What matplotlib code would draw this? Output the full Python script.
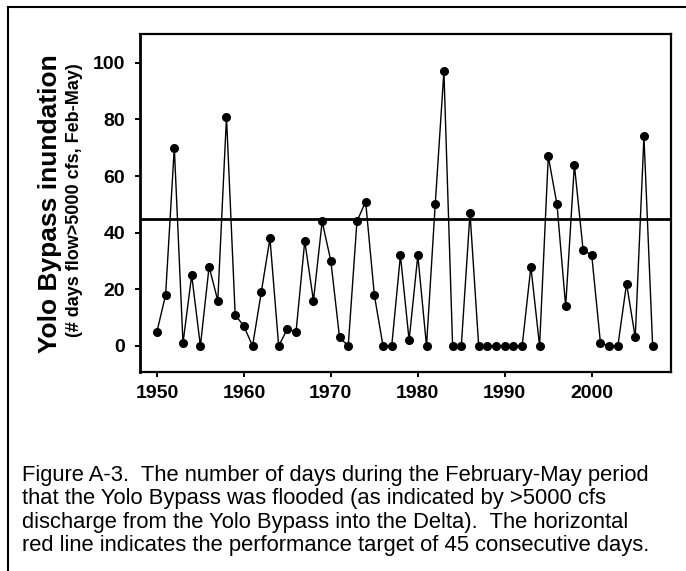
import numpy as np
import matplotlib
matplotlib.use("Agg")
import matplotlib.pyplot as plt
from matplotlib.lines import Line2D

plt.rcParams["font.family"] = ["Liberation Sans", "DejaVu Sans"]

# flooded days (Feb-May) per water year
years = list(range(1950, 2008))
days = [5, 18, 70, 1, 25, 0, 28, 16, 81, 11,
        7, 0, 19, 38, 0, 6, 5, 37, 16, 44,
        30, 3, 0, 44, 51, 18, 0, 0, 32, 2,
        32, 0, 50, 97, 0, 0, 47, 0, 0, 0,
        0, 0, 0, 28, 0, 67, 50, 14, 64, 34,
        32, 1, 0, 0, 22, 3, 74, 0]
target = 45
xticks = [1950, 1960, 1970, 1980, 1990, 2000]
yticks = [0, 20, 40, 60, 80, 100]

caption = ("Figure A-3.  The number of days during the February-May period\n"
           "that the Yolo Bypass was flooded (as indicated by >5000 cfs\n"
           "discharge from the Yolo Bypass into the Delta).  The horizontal\n"
           "red line indicates the performance target of 45 consecutive days.")

fig = plt.figure(figsize=(6.86, 5.71), dpi=100)
ax = fig.add_axes([0.204, 0.3485, 0.774, 0.592])

ax.axhline(target, color="black", lw=2.0, zorder=2)
ax.plot(years, days, color="black", lw=1.0, marker="o", ms=5.5,
        mfc="black", mec="black", zorder=3)

ax.set_xlim(1948.05, 2009.1)
ax.set_ylim(-9.2, 110.2)
ax.set_xticks(xticks)
ax.set_yticks(yticks)
ax.tick_params(direction="out", length=3.5, width=1.4, labelsize=14)
ax.tick_params(axis="y", pad=7)
ax.tick_params(axis="x", pad=6)
for lab in ax.get_xticklabels() + ax.get_yticklabels():
    lab.set_fontweight("bold")
for s in ax.spines.values():
    s.set_linewidth(1.6)
ax.spines["left"].set_linewidth(2.0)

fig.text(0.073, 0.643, "Yolo Bypass inundation", rotation=90, ha="center",
         va="center", fontsize=19, fontweight="bold")
fig.text(0.109, 0.65, "(# days flow>5000 cfs, Feb-May)", rotation=90,
         ha="center", va="center", fontsize=13, fontweight="bold")

fig.text(0.032, 0.026, caption, ha="left", va="bottom", fontsize=15.8,
         linespacing=1.15)

# outer frame, cut at the right and bottom
fig.add_artist(Line2D([0.012, 0.012], [0.0, 0.988], color="black", lw=1.5,
                      transform=fig.transFigure))
fig.add_artist(Line2D([0.012, 1.0], [0.988, 0.988], color="black", lw=1.5,
                      transform=fig.transFigure))

fig.savefig("out.png", dpi=100)
